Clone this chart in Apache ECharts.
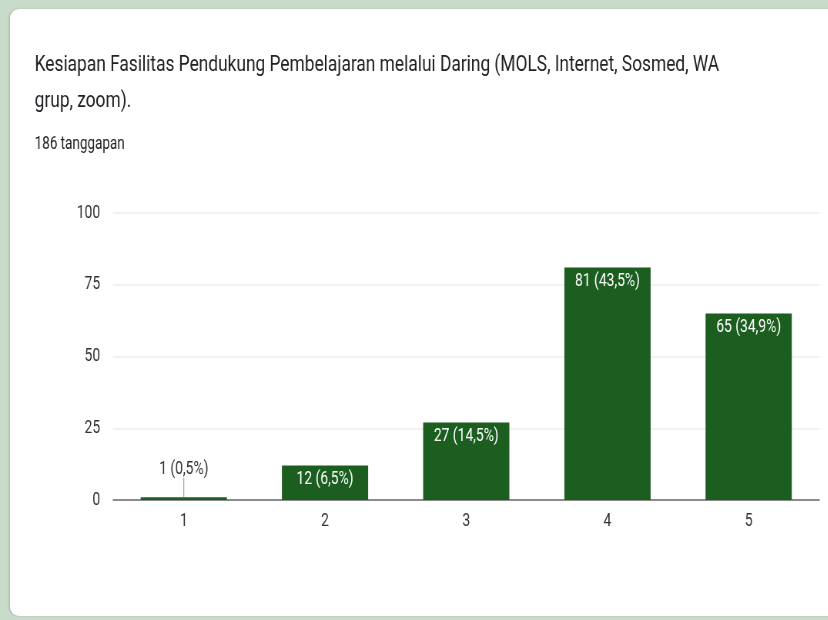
<!DOCTYPE html>
<html>
<head>
<meta charset="utf-8">
<script src="https://cdn.jsdelivr.net/npm/echarts@6/dist/echarts.min.js"></script>
<style>
  html, body { margin: 0; padding: 0; }
  body { width: 828px; height: 620px; background: #c9dbc9; position: relative; overflow: hidden; }
  #card {
    position: absolute; left: 10px; top: 9px; width: 830px; height: 607px;
    background: #ffffff; border-radius: 9px;
    box-shadow: -1px 0 2px rgba(90, 120, 90, 0.35);
  }
  /* the chart is laid out on a wider canvas and drawn narrower, giving a condensed face */
  #chart {
    position: absolute; left: 0; top: 0; width: 1075px; height: 620px;
    transform: scaleX(0.77); transform-origin: 0 0;
  }
</style>
</head>
<body>
<div id="card"></div>
<div id="chart"></div>
<script>
// Survey answers on a 1–5 scale
const categories = ['1', '2', '3', '4', '5'];
const counts = [1, 12, 27, 81, 65];
const percentLabels = ['0,5%', '6,5%', '14,5%', '43,5%', '34,9%'];
const yTicks = [0, 25, 50, 75, 100];
const titleText = 'Kesiapan Fasilitas Pendukung Pembelajaran melalui Daring (MOLS, Internet, Sosmed, WA\ngrup, zoom).';
const subtitleText = '186 tanggapan';

const FONT = 'Roboto, "Noto Sans", sans-serif';
const BAR = '#1b5e20';

const chart = echarts.init(document.getElementById('chart'), null, { renderer: 'canvas' });

// bars too short to hold their label get it above, tied back with a guide line
const SMALL = 5;
const seriesData = counts.map(v => {
  const item = { value: v };
  if (v < SMALL) {
    item.label = { position: 'top', distance: 2, color: '#333333' };
    item.labelLine = { show: true, lineStyle: { color: '#8a8a8a', width: 1 } };
  }
  return item;
});

chart.setOption({
  animation: false,
  textStyle: { fontFamily: FONT },
  title: [
    {
      text: titleText,
      left: 45,
      top: 47,
      padding: 0,
      textStyle: { fontFamily: FONT, fontSize: 22.5, fontWeight: 'normal', color: '#202124', lineHeight: 36 }
    },
    {
      text: subtitleText,
      left: 45,
      top: 136,
      padding: 0,
      textStyle: { fontFamily: FONT, fontSize: 17.5, fontWeight: 'normal', color: '#202124', lineHeight: 17 }
    }
  ],
  grid: { left: 147, right: 11, top: 213, bottom: 120, containLabel: false },
  xAxis: {
    type: 'category',
    data: categories,
    axisLine: { show: true, lineStyle: { color: '#6a6a6a', width: 1.5 } },
    axisTick: { show: false },
    axisLabel: { color: '#333333', fontSize: 18, margin: 12, fontFamily: FONT }
  },
  yAxis: {
    type: 'value',
    min: yTicks[0],
    max: yTicks[yTicks.length - 1],
    interval: 25,
    axisLine: { show: false },
    axisTick: { show: false },
    axisLabel: { color: '#333333', fontSize: 18, margin: 17, fontFamily: FONT },
    splitLine: { lineStyle: { color: '#ececec', width: 1.5 } }
  },
  series: [{
    type: 'bar',
    data: seriesData,
    barWidth: 112,
    itemStyle: { color: BAR },
    label: {
      show: true,
      position: 'insideTop',
      distance: 5,
      color: '#ffffff',
      fontSize: 18,
      fontFamily: FONT,
      formatter: p => p.value + ' (' + percentLabels[p.dataIndex] + ')'
    },
    labelLayout: p => (counts[p.dataIndex] < SMALL ? { dy: -17 } : {})
  }]
});
</script>
</body>
</html>
